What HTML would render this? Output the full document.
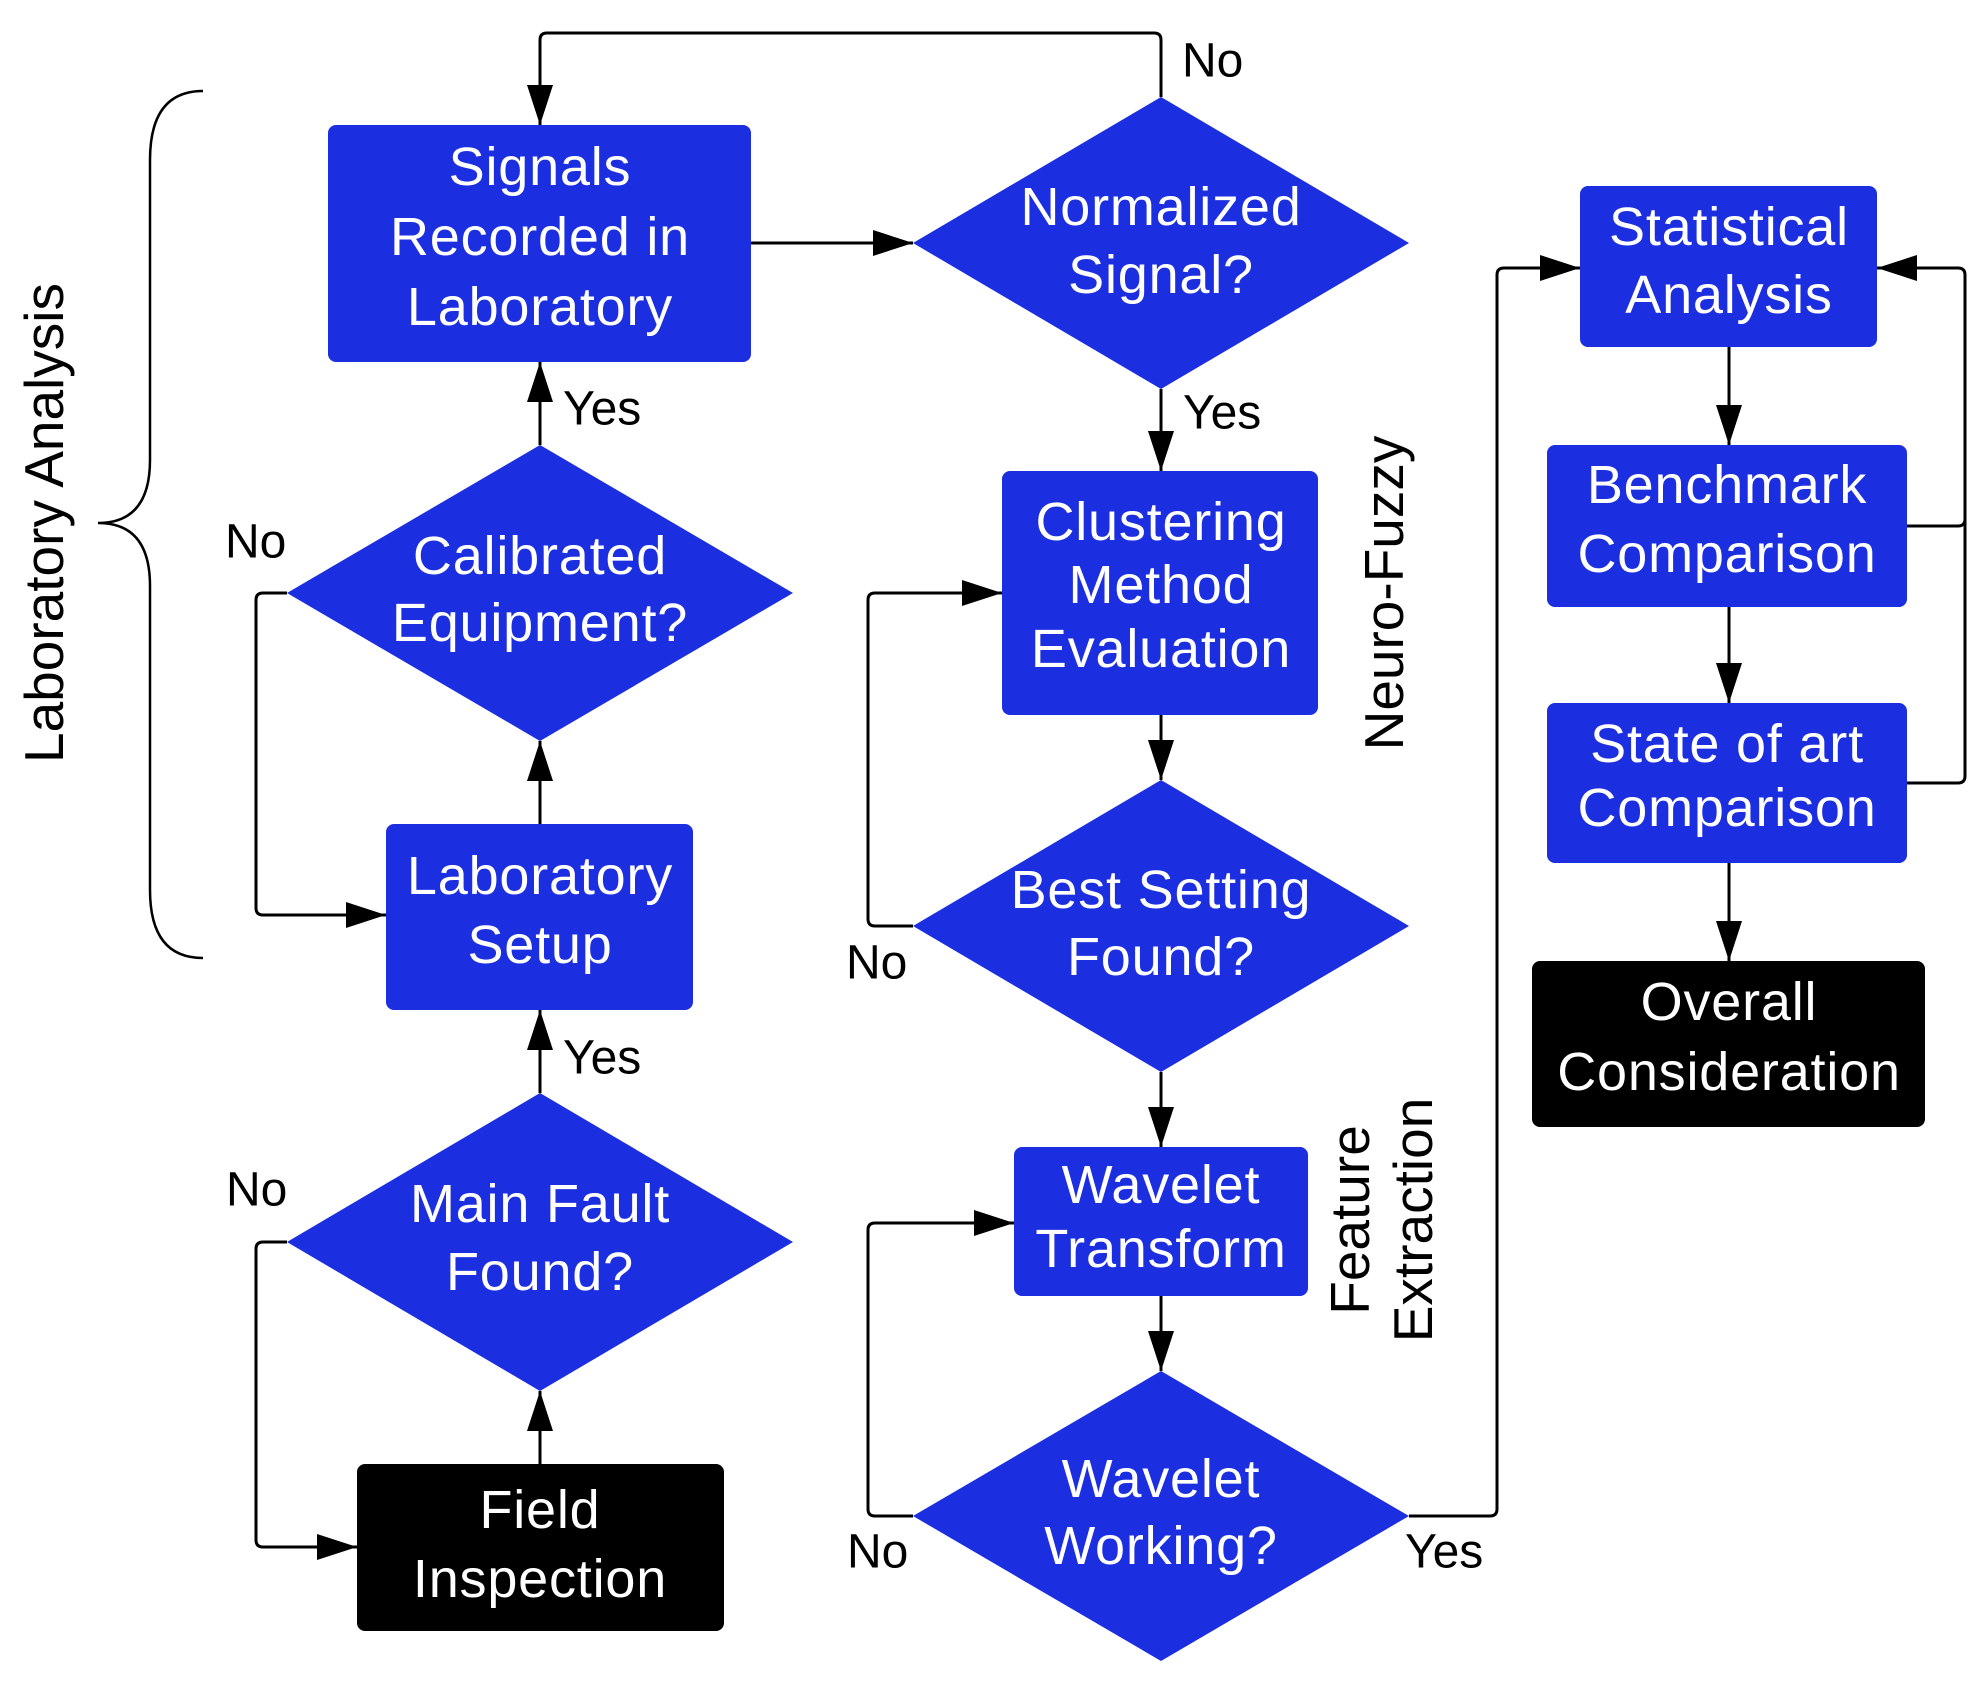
<!DOCTYPE html>
<html><head><meta charset="utf-8"><style>
html,body{margin:0;padding:0;background:#fff;}
svg{display:block;}
text{font-family:"Liberation Sans",sans-serif;}
.w{fill:#fff;font-size:54px;letter-spacing:0.8px;text-anchor:middle;dominant-baseline:central;}
.k{fill:#000;font-size:48px;dominant-baseline:central;}
.r{fill:#000;font-size:55px;dominant-baseline:central;text-anchor:middle;}
.l{fill:none;stroke:#000;stroke-width:3;}
</style></head><body>
<svg width="1987" height="1682" viewBox="0 0 1987 1682" xmlns="http://www.w3.org/2000/svg">
<defs>
<marker id="A" markerWidth="40" markerHeight="26" refX="40" refY="13" orient="auto" markerUnits="userSpaceOnUse">
<path d="M0,0 L40,13 L0,26 Z" fill="#000"/>
</marker>
</defs>
<g fill="#1b2ee0">
<rect x="328" y="125" width="423" height="237" rx="8"/>
<polygon points="1161,97 1409,243 1161,389 913,243"/>
<polygon points="540,445 793,593 540,741 287,593"/>
<rect x="386" y="824" width="307" height="186" rx="8"/>
<polygon points="540,1093 793,1242 540,1391 287,1242"/>
<rect x="1002" y="471" width="316" height="244" rx="8"/>
<polygon points="1161,780 1409,926 1161,1072 913,926"/>
<rect x="1014" y="1147" width="294" height="149" rx="8"/>
<polygon points="1161,1371 1409,1516 1161,1661 913,1516"/>
<rect x="1580" y="186" width="297" height="161" rx="8"/>
<rect x="1547" y="445" width="360" height="162" rx="8"/>
<rect x="1547" y="703" width="360" height="160" rx="8"/>
</g>
<rect x="357" y="1464" width="367" height="167" rx="8" fill="#000"/>
<rect x="1532" y="961" width="393" height="166" rx="8" fill="#000"/>

<g class="l">
<path d="M1161,97 V40 Q1161,33 1154,33 H547 Q540,33 540,40 V125" marker-end="url(#A)"/>
<path d="M751,243 H913" marker-end="url(#A)"/>
<path d="M1161,389 V471" marker-end="url(#A)"/>
<path d="M540,445 V362" marker-end="url(#A)"/>
<path d="M540,824 V741" marker-end="url(#A)"/>
<path d="M287,593 H263 Q256,593 256,600 V908 Q256,915 263,915 H386" marker-end="url(#A)"/>
<path d="M540,1093 V1010" marker-end="url(#A)"/>
<path d="M540,1464 V1391" marker-end="url(#A)"/>
<path d="M287,1242 H263 Q256,1242 256,1249 V1540 Q256,1547 263,1547 H357" marker-end="url(#A)"/>
<path d="M1161,715 V780" marker-end="url(#A)"/>
<path d="M913,926 H875 Q868,926 868,919 V600 Q868,593 875,593 H1002" marker-end="url(#A)"/>
<path d="M1161,1072 V1147" marker-end="url(#A)"/>
<path d="M1161,1296 V1371" marker-end="url(#A)"/>
<path d="M913,1516 H875 Q868,1516 868,1509 V1230 Q868,1223 875,1223 H1014" marker-end="url(#A)"/>
<path d="M1409,1516 H1490 Q1497,1516 1497,1509 V275 Q1497,268 1504,268 H1580" marker-end="url(#A)"/>
<path d="M1729,347 V445" marker-end="url(#A)"/>
<path d="M1729,607 V703" marker-end="url(#A)"/>
<path d="M1729,863 V961" marker-end="url(#A)"/>
<path d="M1907,526 H1958 Q1965,526 1965,519 V275 Q1965,268 1958,268 H1877" marker-end="url(#A)"/>
<path d="M1907,783 H1958 Q1965,783 1965,776 V520"/>
<path d="M203,91 Q150,91 150,160 V460 Q150,523 98,523 Q150,523 150,586 V890 Q150,958 203,958" stroke-width="2.5"/>
</g>

<text class="w" x="540" y="167">Signals</text>
<text class="w" x="540" y="237">Recorded in</text>
<text class="w" x="540" y="307">Laboratory</text>
<text class="w" x="1161" y="207">Normalized</text>
<text class="w" x="1161" y="275">Signal?</text>
<text class="w" x="540" y="556">Calibrated</text>
<text class="w" x="540" y="623">Equipment?</text>
<text class="w" x="540" y="876">Laboratory</text>
<text class="w" x="540" y="945">Setup</text>
<text class="w" x="540" y="1204">Main Fault</text>
<text class="w" x="540" y="1272">Found?</text>
<text class="w" x="540" y="1510">Field</text>
<text class="w" x="540" y="1579">Inspection</text>
<text class="w" x="1161" y="522">Clustering</text>
<text class="w" x="1161" y="585">Method</text>
<text class="w" x="1161" y="649">Evaluation</text>
<text class="w" x="1161" y="890">Best Setting</text>
<text class="w" x="1161" y="957">Found?</text>
<text class="w" x="1161" y="1185">Wavelet</text>
<text class="w" x="1161" y="1249">Transform</text>
<text class="w" x="1161" y="1479">Wavelet</text>
<text class="w" x="1161" y="1546">Working?</text>
<text class="w" x="1729" y="227">Statistical</text>
<text class="w" x="1729" y="295">Analysis</text>
<text class="w" x="1727" y="485">Benchmark</text>
<text class="w" x="1727" y="554">Comparison</text>
<text class="w" x="1727" y="744">State of art</text>
<text class="w" x="1727" y="808">Comparison</text>
<text class="w" x="1729" y="1002">Overall</text>
<text class="w" x="1729" y="1072">Consideration</text>

<text class="k" x="1182" y="61">No</text>
<text class="k" x="563" y="409">Yes</text>
<text class="k" x="225" y="542">No</text>
<text class="k" x="1183" y="413">Yes</text>
<text class="k" x="846" y="963">No</text>
<text class="k" x="563" y="1058">Yes</text>
<text class="k" x="226" y="1190">No</text>
<text class="k" x="847" y="1552">No</text>
<text class="k" x="1405" y="1552">Yes</text>

<text class="r" transform="translate(44,523) rotate(-90)">Laboratory Analysis</text>
<text class="r" transform="translate(1384,593) rotate(-90)">Neuro-Fuzzy</text>
<text class="r" transform="translate(1350,1220) rotate(-90)">Feature</text>
<text class="r" transform="translate(1413,1220) rotate(-90)">Extraction</text>
</svg>
</body></html>
